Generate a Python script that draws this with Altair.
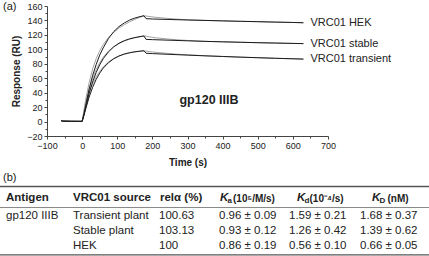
import altair as alt
import pandas as pd

# ---------------- data ----------------
series_names = ["VRC01 HEK", "VRC01 stable", "VRC01 transient"]

base_t = [-60, -55, -30, -1]
base_v = [1.2, 0.6, 0.4, 0.3]

black_assoc_t = [0, 5, 10, 20, 30, 40, 50, 60, 75, 90, 105, 120, 135, 150, 165, 176]
black_dissoc_t = [182, 200, 250, 300, 350, 400, 450, 500, 550, 600, 630]
grey_assoc_t = [0, 10, 20, 30, 40, 50, 60, 75, 90, 105, 120, 135, 150, 165, 178]
grey_dissoc_t = [190, 210, 240, 270, 300, 350, 400, 450, 500, 550, 600, 630]

hek_black = [0.3, 10, 22, 45, 64, 79, 92, 102, 115, 124.5, 131.5, 136.5, 140.5, 143.3, 145.3, 146.6,
             142.5, 142, 141.3, 140.6, 140, 139.4, 138.8, 138.3, 137.7, 137.2, 136.8]
hek_grey = [0, 30, 54, 73, 87, 98, 106.5, 116.5, 123.5, 129.5, 134, 138, 141.5, 144.5, 146.4,
            145.5, 144.3, 143, 141.8, 141, 140.1, 139.4, 138.8, 138.3, 137.7, 137.2, 136.8]

stable_black = [0.3, 9, 19, 39, 55, 68, 78.5, 87, 96.5, 103.5, 108.5, 112, 114.5, 116.3, 117.6, 118.5,
                113.8, 113.4, 112.6, 111.8, 111, 110.4, 109.8, 109.2, 108.7, 108.2, 107.9]
stable_grey = [0, 25, 45, 60, 72, 81.5, 89, 97.5, 103.5, 108, 111.5, 114, 116, 117.5, 118.6,
               117.4, 116, 114.5, 113.2, 112.3, 111.1, 110.4, 109.8, 109.2, 108.7, 108.2, 107.9]

transient_black = [0.3, 8, 17, 34, 47.5, 58.5, 67, 74, 81.5, 87, 90.8, 93.5, 95.3, 96.6, 97.5, 98,
                   94.6, 94.1, 93, 92, 91, 90.1, 89.2, 88.4, 87.6, 86.9, 86.5]
transient_grey = [0, 23, 40, 52.5, 62, 69.5, 75.5, 82.5, 87.3, 90.8, 93.3, 95, 96.4, 97.4, 97.9,
                  97, 95.8, 94.5, 93.3, 92.4, 91.1, 90.1, 89.2, 88.4, 87.6, 86.9, 86.5]

plot_title = "gp120 IIIB"

# table
tbl_headers = ["Antigen", "VRC01 source", "relα (%)"]
k_symbols = ["K", "K", "K"]
k_subs = ["a", "d", "D"]
k_units = ["(10⁵/M/s)", "(10⁻⁴/s)", "(nM)"]
col_antigen = ["gp120 IIIB", "", ""]
col_source = ["Transient plant", "Stable plant", "HEK"]
col_rel = ["100.63", "103.13", "100"]
col_ka = ["0.96 ± 0.09", "0.93 ± 0.12", "0.86 ± 0.19"]
col_kd = ["1.59 ± 0.21", "1.26 ± 0.42", "0.56 ± 0.10"]
col_KD = ["1.68 ± 0.37", "1.39 ± 0.62", "0.66 ± 0.05"]

# ---------------- layout ----------------
W, H = 281, 130
PAD_L, PAD_T = 47, 6
FONT = "Liberation Sans"
INK = "#222222"

# ---------------- build tables ----------------
black_rows, grey_rows = [], []
for name, b, g in [(series_names[0], hek_black, hek_grey),
                   (series_names[1], stable_black, stable_grey),
                   (series_names[2], transient_black, transient_grey)]:
    bt = base_t + black_assoc_t + black_dissoc_t
    bv = base_v + b
    for i, (t, v) in enumerate(zip(bt, bv)):
        black_rows.append({"series": name, "t": t, "v": v, "o": i})
    gt = grey_assoc_t + grey_dissoc_t
    for i, (t, v) in enumerate(zip(gt, g)):
        grey_rows.append({"series": name, "t": t, "v": v, "o": i})
black_df = pd.DataFrame(black_rows)
grey_df = pd.DataFrame(grey_rows)
label_df = black_df.sort_values("o").groupby("series").tail(1)

xscale = alt.Scale(domain=[-100, 700], nice=False, zero=False)
yscale = alt.Scale(domain=[-20, 160], nice=False, zero=False)

x_axis = alt.Axis(
    title="Time (s)", values=list(range(-100, 701, 50)),
    labelExpr="datum.value % 100 === 0 ? datum.label : ''",
    tickSize={"condition": {"test": "datum.value % 100 === 0", "value": 3}, "value": 2},
    labelFlush=False, labelOverlap=False, labelPadding=2, titlePadding=7,
)
y_axis = alt.Axis(
    title="Response (RU)", values=list(range(-20, 161, 10)),
    labelExpr="datum.value % 20 === 0 ? datum.label : ''",
    tickSize={"condition": {"test": "datum.value % 20 === 0", "value": 3}, "value": 2},
    labelFlush=False, labelOverlap=False, labelPadding=2, titlePadding=5,
)

grey_lines = alt.Chart(grey_df).mark_line(color="#a3a3a3", strokeWidth=1).encode(
    x=alt.X("t:Q", scale=xscale, axis=x_axis),
    y=alt.Y("v:Q", scale=yscale, axis=y_axis),
    detail="series:N", order="o:Q",
)
black_lines = alt.Chart(black_df).mark_line(color="#1c1c1c", strokeWidth=1).encode(
    x=alt.X("t:Q", scale=xscale, axis=x_axis),
    y=alt.Y("v:Q", scale=yscale, axis=y_axis),
    detail="series:N", order="o:Q",
)
end_labels = alt.Chart(label_df).mark_text(
    align="left", baseline="middle", dx=7, font=FONT, fontSize=11, color=INK
).encode(
    x=alt.X("t:Q", scale=xscale, axis=x_axis),
    y=alt.Y("v:Q", scale=yscale, axis=y_axis),
    text="series:N",
)
title_txt = alt.Chart(pd.DataFrame({"txt": [plot_title]})).mark_text(
    align="center", baseline="middle", font=FONT, fontSize=12.5, fontWeight="bold", color=INK
).encode(x=alt.value(209 - PAD_L), y=alt.value(100 - PAD_T), text="txt:N")

curves = alt.layer(grey_lines, black_lines, end_labels, title_txt)

# ---- table body (through its own scales) ----
body_rows = []
for c, col in enumerate([col_antigen, col_source, col_rel, col_ka, col_kd, col_KD]):
    for r, txt in enumerate(col):
        body_rows.append({"col": c, "row": r + 1, "txt": txt})
body_df = pd.DataFrame(body_rows)
body_col_x = [6, 73, 159, 219, 289, 360]
body = alt.Chart(body_df).mark_text(
    align="left", baseline="middle", font=FONT, fontSize=11.5, color=INK
).encode(
    x=alt.X("col:Q", axis=None, scale=alt.Scale(domain=list(range(6)), range=[p - PAD_L for p in body_col_x])),
    y=alt.Y("row:Q", axis=None, scale=alt.Scale(domain=[1, 3], range=[216 - PAD_T, 246 - PAD_T])),
    text="txt:N",
)

# ---- table header ----
slot_x = [6, 73, 160, 220, 227.5, 233, 297, 304.5, 309.5, 372, 379.5, 387.5]
hx = alt.Scale(domain=list(range(len(slot_x))), range=[p - PAD_L for p in slot_x])
HY = 198 - PAD_T
names_df = pd.DataFrame({"slot": [0, 1, 2], "txt": tbl_headers})
k_df = pd.DataFrame({"slot": [3, 6, 9], "txt": k_symbols})
sub_df = pd.DataFrame({"slot": [4, 7, 10], "txt": k_subs})
unit_df = pd.DataFrame({"slot": [5, 8, 11], "txt": k_units})

def htext(df, dy=0, **kw):
    return alt.Chart(df).mark_text(align="left", baseline="middle", font=FONT, color=INK, fontWeight="bold", **kw).encode(
        x=alt.X("slot:Q", axis=None, scale=hx), y=alt.value(HY + dy), text="txt:N")

header = alt.layer(
    htext(names_df, fontSize=11.5),
    htext(k_df, fontSize=11.5, fontStyle="italic"),
    htext(sub_df, dy=3, fontSize=8),
    htext(unit_df, dy=0.5, fontSize=10),
)

# ---- rules and panel letters ----
one = pd.DataFrame({"a": [0]})
def hrule(yabs, w, c):
    return alt.Chart(one).mark_rule(color=c, strokeWidth=w).encode(
        x=alt.value(0 - PAD_L), x2=alt.value(429 - PAD_L), y=alt.value(yabs - PAD_T))
letters = alt.Chart(pd.DataFrame({"txt": ["(a)", "(b)"], "k": [0, 1]})).mark_text(
    align="left", baseline="middle", font=FONT, fontSize=11, color=INK
).encode(
    x=alt.value(3 - PAD_L),
    y=alt.Y("k:Q", axis=None, scale=alt.Scale(domain=[0, 1], range=[7 - PAD_T, 178 - PAD_T])),
    text="txt:N",
)
deco = alt.layer(hrule(186.5, 1.3, "#555555"), hrule(207.5, 1, "#8a8a8a"), hrule(254.8, 1.3, "#555555"))

chart = alt.layer(curves, body, header, letters, deco).resolve_scale(
    x="independent", y="independent"
).properties(
    width=W, height=H,
    autosize=alt.AutoSizeParams(type="none"),
    padding={"left": PAD_L, "top": PAD_T, "right": 429 - PAD_L - W, "bottom": 256 - PAD_T - H},
).configure_view(stroke=None).configure_axis(
    labelFont=FONT, labelFontSize=9, labelColor=INK, labelOverlap=False, labelFlush=False,
    titleFont=FONT, titleFontSize=10, titleFontWeight="bold", titleColor=INK,
    domainColor="#444444", tickColor="#444444", grid=False,
)

chart.save("out.html", embed_options={"renderer": "svg", "actions": False})
